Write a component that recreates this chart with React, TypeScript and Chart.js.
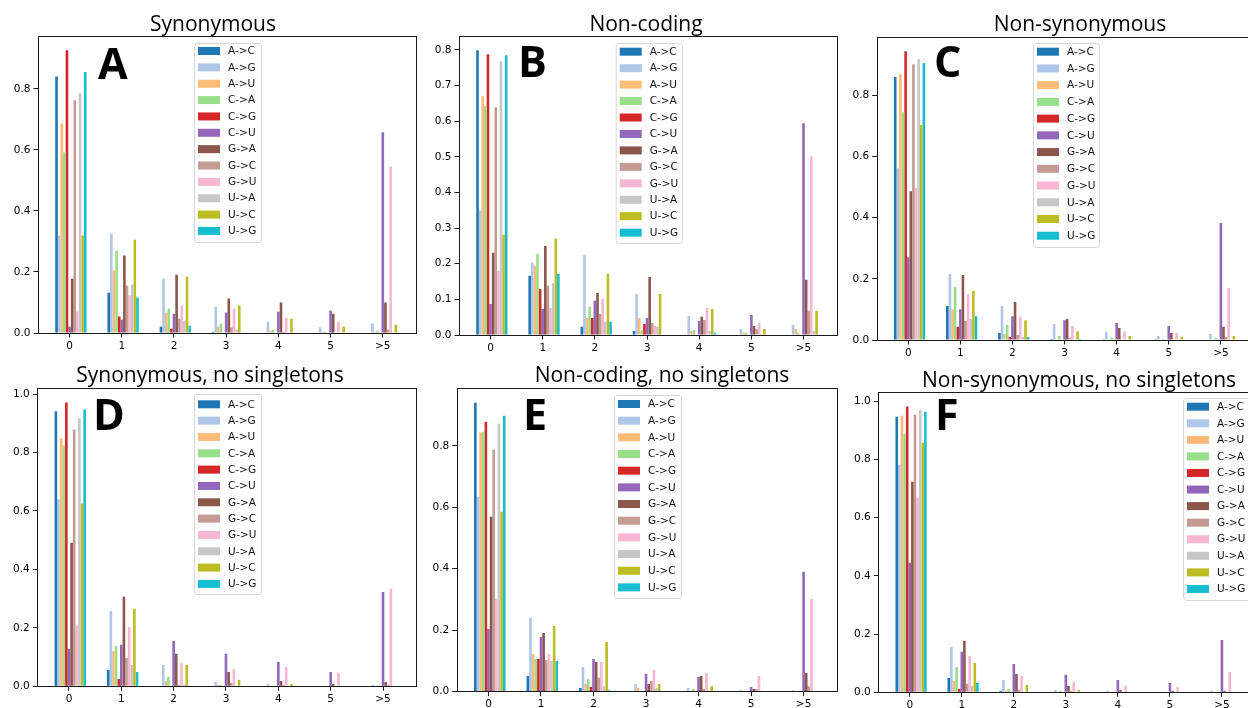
import React, { useEffect, useRef } from 'react';
import { Chart, registerables } from 'chart.js';

Chart.register(...registerables);

// ---------------- data ----------------
const categories = ['0', '1', '2', '3', '4', '5', '>5'];
const mutationTypes = ['A->C', 'A->G', 'A->U', 'C->A', 'C->G', 'C->U', 'G->A', 'G->C', 'G->U', 'U->A', 'U->C', 'U->G'];
const seriesColors = ['#1f77b4', '#aec7e8', '#ffbb78', '#98df8a', '#d62728', '#9467bd', '#8c564b', '#c49c94', '#f7b6d2', '#c7c7c7', '#bcbd22', '#17becf'];

// one row per mutation type (order of mutationTypes), one column per category
const synonymous = [
  [0.841, 0.132, 0.021, 0.004, 0, 0, 0],
  [0.319, 0.326, 0.178, 0.086, 0.037, 0.018, 0.031],
  [0.687, 0.205, 0.067, 0.021, 0.008, 0.004, 0.004],
  [0.592, 0.27, 0.08, 0.031, 0.011, 0.004, 0.008],
  [0.927, 0.054, 0.014, 0, 0, 0, 0],
  [0.021, 0.044, 0.063, 0.067, 0.07, 0.073, 0.658],
  [0.178, 0.254, 0.191, 0.113, 0.1, 0.063, 0.1],
  [0.763, 0.155, 0.047, 0.018, 0.004, 0, 0.011],
  [0.07, 0.123, 0.09, 0.08, 0.05, 0.037, 0.546],
  [0.786, 0.159, 0.04, 0.011, 0.002, 0, 0],
  [0.319, 0.306, 0.185, 0.09, 0.047, 0.021, 0.027],
  [0.855, 0.116, 0.024, 0, 0, 0, 0],
];

const nonCoding = [
  [0.799, 0.166, 0.023, 0.011, 0, 0, 0],
  [0.349, 0.203, 0.225, 0.115, 0.053, 0.017, 0.028],
  [0.67, 0.194, 0.048, 0.048, 0.011, 0.006, 0.017],
  [0.642, 0.228, 0.079, 0.014, 0.014, 0.006, 0.006],
  [0.788, 0.129, 0.048, 0.031, 0, 0, 0],
  [0.087, 0.073, 0.096, 0.048, 0.039, 0.056, 0.594],
  [0.231, 0.25, 0.118, 0.163, 0.051, 0.025, 0.155],
  [0.639, 0.138, 0.059, 0.034, 0.042, 0.017, 0.068],
  [0.18, 0.076, 0.101, 0.025, 0.076, 0.034, 0.501],
  [0.768, 0.146, 0.037, 0.023, 0.011, 0.002, 0.011],
  [0.281, 0.27, 0.172, 0.115, 0.073, 0.017, 0.068],
  [0.785, 0.172, 0.037, 0, 0.006, 0, 0],
];

const nonSynonymous = [
  [0.86, 0.111, 0.023, 0.003, 0.001, 0.001, 0],
  [0.562, 0.216, 0.111, 0.052, 0.026, 0.013, 0.02],
  [0.87, 0.101, 0.02, 0, 0, 0, 0],
  [0.745, 0.173, 0.049, 0.013, 0.007, 0.003, 0.007],
  [0.945, 0.043, 0.01, 0, 0, 0, 0],
  [0.271, 0.101, 0.078, 0.065, 0.056, 0.046, 0.383],
  [0.487, 0.213, 0.124, 0.069, 0.039, 0.023, 0.043],
  [0.902, 0.062, 0.016, 0.007, 0, 0, 0.01],
  [0.497, 0.15, 0.078, 0.046, 0.029, 0.023, 0.17],
  [0.919, 0.069, 0.01, 0.002, 0, 0, 0],
  [0.703, 0.16, 0.065, 0.029, 0.013, 0.01, 0.013],
  [0.906, 0.078, 0.01, 0.003, 0, 0, 0],
];

const synonymousNoSingletons = [
  [0.941, 0.056, 0, 0, 0, 0, 0],
  [0.639, 0.258, 0.073, 0.015, 0.008, 0, 0.005],
  [0.848, 0.121, 0.018, 0.005, 0, 0, 0],
  [0.824, 0.138, 0.032, 0.005, 0, 0, 0],
  [0.971, 0.025, 0, 0, 0, 0, 0],
  [0.128, 0.142, 0.155, 0.111, 0.083, 0.049, 0.323],
  [0.491, 0.306, 0.111, 0.049, 0.018, 0.008, 0.015],
  [0.879, 0.097, 0.005, 0.011, 0.005, 0, 0.005],
  [0.207, 0.203, 0.08, 0.059, 0.066, 0.046, 0.334],
  [0.917, 0.073, 0.005, 0, 0, 0, 0],
  [0.625, 0.265, 0.073, 0.022, 0.008, 0, 0],
  [0.947, 0.049, 0, 0, 0, 0, 0],
];

const nonCodingNoSingletons = [
  [0.94, 0.051, 0.012, 0.001, 0.001, 0.001, 0.001],
  [0.634, 0.24, 0.08, 0.025, 0.012, 0.005, 0.005],
  [0.843, 0.123, 0.025, 0.012, 0.002, 0.002, 0],
  [0.846, 0.106, 0.041, 0.002, 0.009, 0, 0],
  [0.878, 0.106, 0.015, 0.002, 0, 0, 0],
  [0.204, 0.178, 0.106, 0.058, 0.048, 0.015, 0.39],
  [0.569, 0.191, 0.097, 0.025, 0.051, 0.009, 0.061],
  [0.787, 0.103, 0.045, 0.035, 0.009, 0.009, 0.018],
  [0.302, 0.123, 0.097, 0.071, 0.061, 0.051, 0.302],
  [0.872, 0.1, 0.018, 0.012, 0.002, 0, 0],
  [0.585, 0.214, 0.162, 0.025, 0.018, 0, 0],
  [0.898, 0.1, 0.005, 0.002, 0.002, 0.002, 0.002],
];

const nonSynonymousNoSingletons = [
  [0.947, 0.049, 0.005, 0, 0, 0, 0],
  [0.782, 0.156, 0.042, 0.008, 0.005, 0, 0.005],
  [0.951, 0.039, 0.005, 0, 0, 0, 0],
  [0.889, 0.087, 0.011, 0.005, 0, 0, 0],
  [0.982, 0.011, 0, 0, 0, 0, 0],
  [0.445, 0.139, 0.097, 0.06, 0.042, 0.032, 0.18],
  [0.724, 0.177, 0.063, 0.022, 0.008, 0.005, 0.005],
  [0.954, 0.029, 0.008, 0.005, 0, 0, 0],
  [0.669, 0.125, 0.056, 0.036, 0.022, 0.018, 0.07],
  [0.971, 0.022, 0, 0, 0, 0, 0],
  [0.858, 0.101, 0.025, 0.008, 0, 0, 0],
  [0.964, 0.032, 0, 0, 0, 0, 0],
];

const yTicksStep02 = [0, 0.2, 0.4, 0.6, 0.8];
const yTicksStep01 = [0, 0.1, 0.2, 0.3, 0.4, 0.5, 0.6, 0.7, 0.8];
const yTicksTo1 = [0, 0.2, 0.4, 0.6, 0.8, 1.0];

// ---------------- layout ----------------
type Rect = { left: number; top: number; right: number; bottom: number };
type PanelSpec = {
  title: string;
  letter: string;
  values: number[][];
  yTicks: number[];
  canvas: { left: number; top: number; width: number; height: number };
  area: Rect;
  titlePos: { x: number; y: number };
  letterPos: { x: number; y: number };
  legend: Rect & { firstRow: number; rowStep: number };
};

const panels: PanelSpec[] = [
  {
    title: 'Synonymous', letter: 'A', values: synonymous, yTicks: yTicksStep02,
    canvas: { left: 0, top: 0, width: 430, height: 362 },
    area: { left: 38, top: 36, right: 417, bottom: 333 },
    titlePos: { x: 213, y: 31 }, letterPos: { x: 98, y: 79 },
    legend: { left: 194, top: 43, right: 261, bottom: 242, firstRow: 51, rowStep: 16.36 },
  },
  {
    title: 'Non-coding', letter: 'B', values: nonCoding, yTicks: yTicksStep01,
    canvas: { left: 425, top: 0, width: 415, height: 362 },
    area: { left: 459, top: 36, right: 837.7, bottom: 335 },
    titlePos: { x: 646, y: 31 }, letterPos: { x: 518, y: 76.7 },
    legend: { left: 615.7, top: 43, right: 682, bottom: 243, firstRow: 51.7, rowStep: 16.45 },
  },
  {
    title: 'Non-synonymous', letter: 'C', values: nonSynonymous, yTicks: yTicksStep02,
    canvas: { left: 842, top: 0, width: 416, height: 362 },
    area: { left: 876.7, top: 36.7, right: 1255, bottom: 340 },
    titlePos: { x: 1080, y: 31 }, letterPos: { x: 934, y: 76.7 },
    legend: { left: 1033, top: 43, right: 1099, bottom: 247, firstRow: 51.7, rowStep: 16.73 },
  },
  {
    title: 'Synonymous, no singletons', letter: 'D', values: synonymousNoSingletons, yTicks: yTicksTo1,
    canvas: { left: 0, top: 362, width: 430, height: 360 },
    area: { left: 37.3, top: 388.3, right: 417.3, bottom: 686.3 },
    titlePos: { x: 210, y: 382 }, letterPos: { x: 93, y: 430 },
    legend: { left: 194, top: 394, right: 261, bottom: 594, firstRow: 404.3, rowStep: 16.33 },
  },
  {
    title: 'Non-coding, no singletons', letter: 'E', values: nonCodingNoSingletons, yTicks: yTicksStep02,
    canvas: { left: 425, top: 362, width: 415, height: 360 },
    area: { left: 456.7, top: 388.3, right: 838, bottom: 691.7 },
    titlePos: { x: 662, y: 382 }, letterPos: { x: 523, y: 430 },
    legend: { left: 614, top: 395, right: 681, bottom: 598, firstRow: 404, rowStep: 16.67 },
  },
  {
    title: 'Non-synonymous, no singletons', letter: 'F', values: nonSynonymousNoSingletons, yTicks: yTicksTo1,
    canvas: { left: 842, top: 362, width: 416, height: 360 },
    area: { left: 878.3, top: 392.3, right: 1256, bottom: 692.3 },
    titlePos: { x: 1079, y: 387 }, letterPos: { x: 935, y: 430 },
    legend: { left: 1183, top: 398, right: 1252, bottom: 600, firstRow: 406.7, rowStep: 16.57 },
  },
];

const Y_AXIS_W = 30;
const X_AXIS_H = 20;
const BAR_W = 0.05; // bar width in category units
const GROUP_SHIFT = BAR_W / 2; // bar k centred at i + (k - 5) * BAR_W
const GROUP_W = BAR_W * mutationTypes.length;
const TICK_FONT = { family: '"DejaVu Sans", sans-serif', size: 10.5 };

function Panel({ spec }: { spec: PanelSpec }) {
  const ref = useRef<HTMLCanvasElement | null>(null);

  useEffect(() => {
    const canvas = ref.current;
    if (!canvas) return;
    const c = spec.canvas;
    const lo = -GROUP_W / 2 + GROUP_SHIFT;
    const hi = categories.length - 1 + GROUP_W / 2 + GROUP_SHIFT;
    const xMargin = 0.05 * (hi - lo);
    const maxVal = Math.max(...spec.values.map((r) => Math.max(...r)));
    const yMax = maxVal * 1.05;

    const decor = {
      id: 'panelDecor',
      beforeDraw(chart: any) {
        const ctx = chart.ctx;
        ctx.save();
        ctx.fillStyle = '#ffffff';
        ctx.fillRect(0, 0, chart.width, chart.height);
        ctx.restore();
      },
      afterDraw(chart: any) {
        const ctx = chart.ctx as CanvasRenderingContext2D;
        const a = chart.chartArea;
        ctx.save();
        // frame (spines)
        ctx.strokeStyle = '#1a1a1a';
        ctx.lineWidth = 1;
        ctx.strokeRect(Math.round(a.left) + 0.5, Math.round(a.top) + 0.5, Math.round(a.right - a.left) - 1, Math.round(a.bottom - a.top));
        // title
        ctx.fillStyle = '#000';
        ctx.font = '21px "Open Sans", sans-serif';
        ctx.textAlign = 'center';
        ctx.textBaseline = 'alphabetic';
        ctx.fillText(spec.title, spec.titlePos.x - c.left, spec.titlePos.y - c.top);
        // panel letter
        ctx.font = 'bold 43px "Open Sans", sans-serif';
        ctx.textAlign = 'left';
        ctx.fillText(spec.letter, spec.letterPos.x - c.left, spec.letterPos.y - c.top);
        // legend
        const lg = spec.legend;
        const lx = lg.left - c.left + 0.5;
        const ly = lg.top - c.top + 0.5;
        const lw = lg.right - lg.left;
        const lh = lg.bottom - lg.top;
        const r = 3;
        ctx.beginPath();
        ctx.moveTo(lx + r, ly);
        ctx.lineTo(lx + lw - r, ly);
        ctx.quadraticCurveTo(lx + lw, ly, lx + lw, ly + r);
        ctx.lineTo(lx + lw, ly + lh - r);
        ctx.quadraticCurveTo(lx + lw, ly + lh, lx + lw - r, ly + lh);
        ctx.lineTo(lx + r, ly + lh);
        ctx.quadraticCurveTo(lx, ly + lh, lx, ly + lh - r);
        ctx.lineTo(lx, ly + r);
        ctx.quadraticCurveTo(lx, ly, lx + r, ly);
        ctx.closePath();
        ctx.fillStyle = 'rgba(255,255,255,0.8)';
        ctx.fill();
        ctx.strokeStyle = '#d6d6d6';
        ctx.lineWidth = 1;
        ctx.stroke();
        ctx.font = '10.5px "DejaVu Sans", sans-serif';
        ctx.textBaseline = 'middle';
        mutationTypes.forEach((name, k) => {
          const cy = lg.firstRow + k * lg.rowStep - c.top;
          ctx.fillStyle = seriesColors[k];
          ctx.fillRect(lg.left - c.left + 4, cy - 4, 22, 8);
          ctx.fillStyle = '#111';
          ctx.fillText(name, lg.left - c.left + 34, cy + 0.5);
        });
        ctx.restore();
      },
    };

    const chart = new Chart(canvas, {
      type: 'bar',
      data: {
        datasets: mutationTypes.map((name, k) => ({
          label: name,
          data: spec.values[k].map((v, i) => ({ x: i + GROUP_SHIFT, y: v })),
          backgroundColor: seriesColors[k],
          borderWidth: 0,
          categoryPercentage: GROUP_W,
          barPercentage: 1,
        })),
      },
      options: {
        responsive: false,
        animation: false,
        devicePixelRatio: 1,
        layout: {
          padding: {
            left: spec.area.left - c.left - Y_AXIS_W,
            top: spec.area.top - c.top,
            right: c.left + c.width - spec.area.right,
            bottom: c.top + c.height - spec.area.bottom - X_AXIS_H,
          },
        },
        plugins: {
          legend: { display: false },
          title: { display: false },
          tooltip: { enabled: false },
        },
        scales: {
          x: {
            type: 'linear',
            bounds: 'data',
            min: lo - xMargin,
            max: hi + xMargin,
            offset: false,
            grid: { drawOnChartArea: false, drawTicks: true, tickLength: 4.5, color: '#1a1a1a', lineWidth: 1, offset: false },
            border: { display: false },
            ticks: {
              padding: 2,
              color: '#000',
              font: TICK_FONT,
              maxRotation: 0,
              autoSkip: false,
              callback: (v: any) => categories[Math.round(Number(v))] ?? '',
            },
            afterBuildTicks: (axis: any) => {
              axis.ticks = categories.map((_, i) => ({ value: i }));
            },
            afterFit: (axis: any) => {
              axis.height = X_AXIS_H;
            },
          },
          y: {
            type: 'linear',
            bounds: 'data',
            min: 0,
            max: yMax,
            grid: { drawOnChartArea: false, drawTicks: true, tickLength: 4.5, color: '#1a1a1a', lineWidth: 1 },
            border: { display: false },
            ticks: {
              padding: 3,
              color: '#000',
              font: TICK_FONT,
              autoSkip: false,
              callback: (v: any) => Number(v).toFixed(1),
            },
            afterBuildTicks: (axis: any) => {
              axis.ticks = spec.yTicks.map((v) => ({ value: v }));
            },
            afterFit: (axis: any) => {
              axis.width = Y_AXIS_W;
            },
          },
        },
      } as any,
      plugins: [decor],
    });
    return () => chart.destroy();
  }, [spec]);

  return (
    <canvas
      ref={ref}
      width={spec.canvas.width}
      height={spec.canvas.height}
      style={{ position: 'absolute', left: spec.canvas.left, top: spec.canvas.top, width: spec.canvas.width, height: spec.canvas.height }}
    />
  );
}

export default function App() {
  return (
    <div style={{ position: 'absolute', left: 0, top: 0, width: 1248, height: 708, overflow: 'hidden', background: '#fff' }}>
      {panels.map((p) => (
        <Panel key={p.letter} spec={p} />
      ))}
    </div>
  );
}
